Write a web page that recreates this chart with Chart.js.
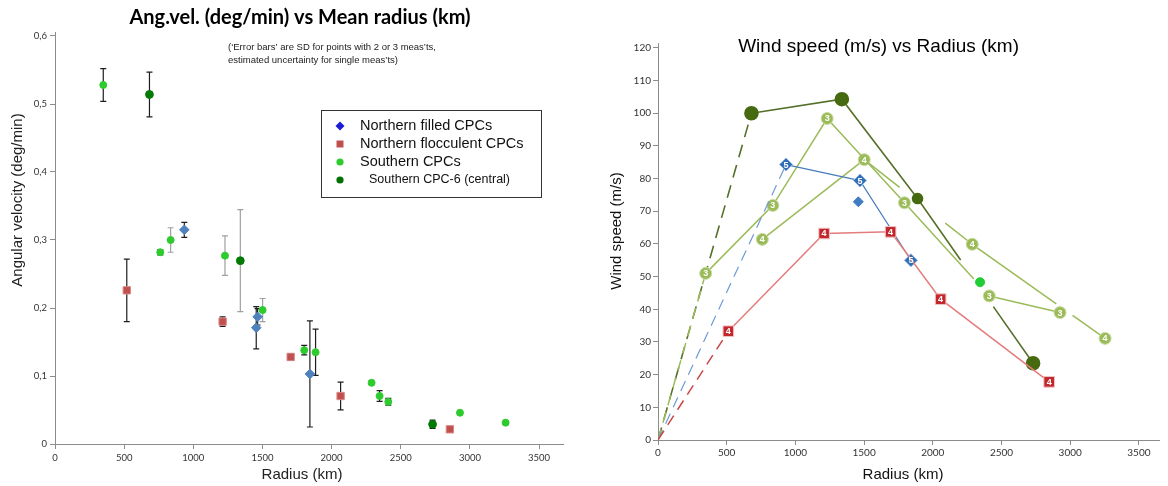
<!DOCTYPE html>
<html>
<head>
<meta charset="utf-8">
<script src="https://cdn.jsdelivr.net/npm/chart.js@4.4.1/dist/chart.umd.min.js"></script>
<style>
  html, body { margin: 0; padding: 0; background: #fff; }
  #wrap { position: relative; width: 1168px; height: 486px; overflow: hidden; }
  .box { position: absolute; top: 0; height: 486px; }
  #leftBox { left: 0; width: 580px; }
  #rightBox { left: 580px; width: 588px; }
</style>
</head>
<body>
<div id="wrap">
  <div class="box" id="leftBox"><canvas id="angvel" width="580" height="486"></canvas></div>
  <div class="box" id="rightBox"><canvas id="windspeed" width="588" height="486"></canvas></div>
</div>
<script>
// ---- left chart: angular velocity (deg/min) vs mean radius (km)
const nfRad = [935, 1465, 1455, 1843];
const nfVel = [0.315, 0.187, 0.171, 0.103];
const nfSd  = [0.011, 0.012, 0.031, 0.078];

const nflRad = [519, 1212, 1704, 2065, 2855];
const nflVel = [0.226, 0.180, 0.128, 0.0706, 0.0216];
const nflSd  = [0.046, 0.007, 0.005, 0.0205, 0];

const scRad = [349, 761, 836, 1229, 1501, 1802, 1884, 2289, 2347, 2410, 2928, 3258];
const scVel = [0.528, 0.282, 0.300, 0.277, 0.197, 0.138, 0.135, 0.090, 0.0706, 0.062, 0.046, 0.0314];
const scSd  = [0.024, 0.004, 0.018, 0.029, 0.017, 0.007, 0.034, 0.002, 0.008, 0.005, 0, 0.002];

const c6Rad = [683, 1340, 2730];
const c6Vel = [0.514, 0.2696, 0.029];
const c6Sd  = [0.033, 0.075, 0.006];

// ---- right chart: wind speed (m/s) vs radius (km)
const wC6Rad = [0, 680, 1338, 1889, 2730];
const wC6Spd = [0, 100, 104.3, 73.9, 23.5];

const wS3Rad = [0, 347, 836, 1231, 1794, 2411, 2926];
const wS3Spd = [0, 51, 71.8, 98.4, 72.6, 44.1, 39.0];
const wS3Lab = ['', '3', '3', '3', '3', '3', '3'];

const wS4Rad = [759, 1501, 2287, 3254];
const wS4Spd = [61.4, 85.8, 59.9, 31.1];
const wS4Lab = ['4', '4', '4', '4'];

const wNfRad = [0, 932, 1470, 1841];
const wNfSpd = [0, 84.3, 79.4, 55.0];
const wNfLab = ['', '5', '5', '5'];

const wNfOneRad = [1458];
const wNfOneSpd = [72.9];

const wNflRad = [0, 512, 1209, 1693, 2057, 2847];
const wNflSpd = [0, 33.3, 63.2, 63.7, 43.1, 17.8];
const wNflLab = ['', '4', '4', '4', '4', '4'];

const wScRad = [2344];
const wScSpd = [48.3];

const xTicks = [0, 500, 1000, 1500, 2000, 2500, 3000, 3500];
const angTicks = [0, 0.1, 0.2, 0.3, 0.4, 0.5, 0.6];
const windTicks = [0, 10, 20, 30, 40, 50, 60, 70, 80, 90, 100, 110, 120];

function pts(xs, ys) {
    return xs.map((x, i) => ({ x: x, y: ys[i] }));
}

// error bars drawn under the markers
const errorBars = {
    id: 'errorBars',
    beforeDatasetsDraw(chart) {
        const ctx = chart.ctx;
        const xs = chart.scales.x, ys = chart.scales.y;
        chart.data.datasets.forEach(ds => {
            if (!ds.errs) return;
            ds.data.forEach((p, j) => {
                const e = ds.errs[j];
                if (!e) return;
                const x = xs.getPixelForValue(p.x);
                const yt = ys.getPixelForValue(p.y + e);
                const yb = ys.getPixelForValue(p.y - e);
                ctx.save();
                ctx.strokeStyle = (ds.errGrey && ds.errGrey.includes(j)) ? '#a0a0a0' : '#1e1e1e';
                ctx.lineWidth = 1.2;
                ctx.beginPath();
                ctx.moveTo(x, yt); ctx.lineTo(x, yb);
                ctx.moveTo(x - 3, yt); ctx.lineTo(x + 3, yt);
                ctx.moveTo(x - 3, yb); ctx.lineTo(x + 3, yb);
                ctx.stroke();
                ctx.restore();
            });
        });
    }
};

// small white numbers inside the markers
const digits = {
    id: 'digits',
    afterDatasetsDraw(chart) {
        const ctx = chart.ctx;
        chart.data.datasets.forEach((ds, i) => {
            if (!ds.digits) return;
            const meta = chart.getDatasetMeta(i);
            meta.data.forEach((el, j) => {
                if (!ds.digits[j]) return;
                ctx.save();
                ctx.font = 'bold 9px "Liberation Sans", Arial';
                ctx.fillStyle = '#fff';
                ctx.textAlign = 'center';
                ctx.textBaseline = 'middle';
                ctx.fillText(ds.digits[j], el.x, el.y + 0.5);
                ctx.restore();
            });
        });
    }
};

// titles, notes and the boxed legend
const decor = {
    id: 'decor',
    afterDraw(chart, args, opts) {
        const ctx = chart.ctx;
        (opts.texts || []).forEach(t => {
            ctx.save();
            ctx.font = t.font;
            ctx.fillStyle = t.color || '#000';
            ctx.textAlign = t.align || 'center';
            ctx.textBaseline = 'middle';
            ctx.translate(t.x, t.y);
            if (t.rotate) ctx.rotate(t.rotate);
            ctx.fillText(t.text, 0, 0);
            ctx.restore();
        });
        const lg = opts.legend;
        if (!lg) return;
        ctx.save();
        ctx.strokeStyle = '#333';
        ctx.lineWidth = 1;
        ctx.strokeRect(lg.x + 0.5, lg.y + 0.5, lg.w, lg.h);
        lg.items.forEach(it => {
            const ds = chart.data.datasets[it.ds];
            const mx = lg.x + 19, my = it.y;
            ctx.fillStyle = it.color;
            ctx.beginPath();
            if (ds.pointStyle === 'rectRot') {
                ctx.moveTo(mx, my - 4.5); ctx.lineTo(mx + 4.5, my);
                ctx.lineTo(mx, my + 4.5); ctx.lineTo(mx - 4.5, my);
                ctx.closePath();
            } else if (ds.pointStyle === 'rect') {
                ctx.rect(mx - 3.5, my - 3.5, 7, 7);
            } else {
                ctx.arc(mx, my, 3.6, 0, Math.PI * 2);
            }
            ctx.fill();
            ctx.fillStyle = '#111';
            ctx.font = it.font;
            ctx.textAlign = 'left';
            ctx.textBaseline = 'middle';
            ctx.fillText(ds.label, it.tx, my);
        });
        ctx.restore();
    }
};

// fixed tick list, the axis itself runs a little past the last tick
function fixedTicks(list) {
    return scale => {
        scale.ticks = list.map(v => ({ value: v }));
    };
}

const axisGrey = '#8c8c8c';
const plainNum = v => String(v);

// ---------------- left chart
const ctx1 = document.getElementById('angvel').getContext('2d');
const angChart = new Chart(ctx1, {
    type: 'scatter',
    data: {
        datasets: [{
            label: 'Northern filled CPCs',
            data: pts(nfRad, nfVel),
            errs: nfSd,
            pointStyle: 'rectRot',
            pointRadius: 4.8,
            backgroundColor: '#4f81bd',
            borderColor: '#4f81bd'
        }, {
            label: 'Northern flocculent CPCs',
            data: pts(nflRad, nflVel),
            errs: nflSd,
            pointStyle: 'rect',
            pointRadius: 5.2,
            backgroundColor: '#c0504d',
            borderColor: '#d98886',
            borderWidth: 1
        }, {
            label: 'Southern CPCs',
            data: pts(scRad, scVel),
            errs: scSd,
            errGrey: [2, 3, 4],
            pointStyle: 'circle',
            pointRadius: 3.5,
            backgroundColor: '#2ecb2e',
            borderColor: '#2ecb2e'
        }, {
            label: 'Southern CPC-6 (central)',
            data: pts(c6Rad, c6Vel),
            errs: c6Sd,
            errGrey: [1],
            pointStyle: 'circle',
            pointRadius: 3.9,
            backgroundColor: '#007a00',
            borderColor: '#007a00'
        }]
    },
    options: {
        responsive: false,
        animation: false,
        events: [],
        layout: { padding: { left: 0, right: 17, top: 32.6, bottom: 0 } },
        plugins: {
            legend: { display: false },
            tooltip: { enabled: false },
            decor: {
                texts: [
                    { text: 'Ang.vel. (deg/min) vs Mean radius (km)', x: 300, y: 18, font: 'bold 20px Lato', color: '#000' },
                    { text: '(\u2018Error bars\u2019 are SD for points with 2 or 3 meas\u2019ts,', x: 228, y: 47, align: 'left', font: '9.5px "Liberation Sans", Arial', color: '#222' },
                    { text: 'estimated uncertainty for single meas\u2019ts)', x: 228, y: 60, align: 'left', font: '9.5px "Liberation Sans", Arial', color: '#222' },
                    { text: 'Angular velocity (deg/min)', x: 18, y: 200, rotate: -Math.PI / 2, font: '15px "Liberation Sans", Arial', color: '#222' },
                    { text: 'Radius (km)', x: 302, y: 475, font: '15px "Liberation Sans", Arial', color: '#222' }
                ],
                legend: {
                    x: 321, y: 110, w: 220, h: 87,
                    items: [
                        { ds: 0, y: 126, tx: 360, color: '#1c1cd6', font: '14.5px "Liberation Sans", Arial' },
                        { ds: 1, y: 144, tx: 360, color: '#c0504d', font: '14.5px "Liberation Sans", Arial' },
                        { ds: 2, y: 162, tx: 360, color: '#2ecb2e', font: '14.5px "Liberation Sans", Arial' },
                        { ds: 3, y: 180, tx: 369, color: '#007000', font: '12.5px "Liberation Sans", Arial' }
                    ]
                }
            }
        },
        scales: {
            x: {
                type: 'linear',
                min: 0,
                max: 3673,
                afterBuildTicks: fixedTicks(xTicks),
                afterFit: s => { s.height = 42; },
                ticks: { autoSkip: false, padding: 3, color: '#333', font: { family: 'Lato', size: 9.5 }, callback: plainNum },
                grid: { drawOnChartArea: false, drawTicks: true, tickLength: 5, color: axisGrey },
                border: { color: axisGrey }
            },
            y: {
                min: 0,
                max: 0.605,
                afterBuildTicks: fixedTicks(angTicks),
                afterFit: s => { s.width = 55; },
                ticks: {
                    autoSkip: false,
                    padding: 3,
                    color: '#333',
                    font: { family: 'Lato', size: 9.5 },
                    callback: v => v === 0 ? '0' : String(Math.round(v * 10) / 10).replace('.', ',')
                },
                grid: { drawOnChartArea: false, drawTicks: true, tickLength: 5, color: axisGrey },
                border: { color: axisGrey }
            }
        }
    },
    plugins: [errorBars, decor]
});

// ---------------- right chart
function segDash(originDash, gaps) {
    return c => {
        if (originDash && c.p0DataIndex === 0) return originDash;
        if (gaps && gaps[c.p0DataIndex]) return gaps[c.p0DataIndex];
        return undefined;
    };
}

const ctx2 = document.getElementById('windspeed').getContext('2d');
const windChart = new Chart(ctx2, {
    type: 'line',
    data: {
        datasets: [{
            label: 'Northern flocculent CPCs',
            data: pts(wNflRad, wNflSpd),
            digits: wNflLab,
            borderColor: '#e37d7d',
            borderWidth: 1.5,
            pointStyle: 'rect',
            pointRadius: [0, 7.5, 7.5, 7.5, 7.5, 7.5],
            pointBackgroundColor: '#c1272d',
            pointBorderColor: '#f3c4c4',
            pointBorderWidth: 1,
            segment: { borderDash: segDash([11, 7]), borderColor: c => c.p0DataIndex === 0 ? '#c84848' : undefined }
        }, {
            label: 'Northern filled CPCs',
            data: pts(wNfRad, wNfSpd),
            digits: wNfLab,
            borderColor: '#4a7ebb',
            borderWidth: 1.2,
            pointStyle: 'rectRot',
            pointRadius: [0, 6.5, 6.5, 6.5],
            pointBackgroundColor: '#2f6db5',
            pointBorderColor: '#8db3e0',
            pointBorderWidth: 1,
            segment: { borderDash: segDash([11, 7]), borderColor: c => c.p0DataIndex === 0 ? '#6c9bd6' : undefined }
        }, {
            label: 'Northern filled CPCs (single)',
            data: pts(wNfOneRad, wNfOneSpd),
            showLine: false,
            pointStyle: 'rectRot',
            pointRadius: 5,
            pointBackgroundColor: '#3f7cc4',
            pointBorderColor: '#3f7cc4'
        }, {
            label: 'Southern CPC',
            data: pts(wScRad, wScSpd),
            showLine: false,
            pointStyle: 'circle',
            pointRadius: 4.5,
            pointBackgroundColor: '#22cc33',
            pointBorderColor: '#22cc33'
        }, {
            label: 'Southern CPCs (3)',
            data: pts(wS3Rad, wS3Spd),
            digits: wS3Lab,
            borderColor: '#9bbb59',
            borderWidth: 1.5,
            pointStyle: 'circle',
            pointRadius: [0, 6, 6, 6, 6, 6, 6],
            pointBackgroundColor: '#9bbb59',
            pointBorderColor: '#c8dca4',
            pointBorderWidth: 1,
            segment: { borderDash: segDash([11, 7], { 4: [103, 400] }) }
        }, {
            label: 'Southern CPCs (4)',
            data: pts(wS4Rad, wS4Spd),
            digits: wS4Lab,
            borderColor: '#9bbb59',
            borderWidth: 1.5,
            pointStyle: 'circle',
            pointRadius: 6,
            pointBackgroundColor: '#9bbb59',
            pointBorderColor: '#c8dca4',
            pointBorderWidth: 1,
            segment: { borderDash: segDash(null, { 1: [45, 58, 400], 2: [103, 20, 400] }) }
        }, {
            label: 'Southern CPC-6 (central)',
            data: pts(wC6Rad, wC6Spd),
            borderColor: '#56702a',
            borderWidth: 1.6,
            pointStyle: 'circle',
            pointRadius: [0, 6.5, 6.5, 5, 6.5],
            pointBackgroundColor: '#466a10',
            pointBorderColor: '#466a10',
            segment: { borderDash: segDash([13, 8], { 3: [75, 57, 400] }) }
        }]
    },
    options: {
        responsive: false,
        animation: false,
        events: [],
        layout: { padding: { left: 0, right: 2, top: 43, bottom: 0 } },
        plugins: {
            legend: { display: false },
            tooltip: { enabled: false },
            decor: {
                texts: [
                    { text: 'Wind speed (m/s) vs Radius (km)', x: 298.6, y: 47, font: '19px "Liberation Sans", Arial', color: '#000' },
                    { text: 'Wind speed (m/s)', x: 37, y: 231, rotate: -Math.PI / 2, font: '15px "Liberation Sans", Arial', color: '#111' },
                    { text: 'Radius (km)', x: 323, y: 475, font: '15px "Liberation Sans", Arial', color: '#111' }
                ]
            }
        },
        scales: {
            x: {
                type: 'linear',
                min: 0,
                max: 3650,
                afterBuildTicks: fixedTicks(xTicks),
                afterFit: s => { s.height = 46; },
                ticks: { autoSkip: false, padding: 2, color: '#333', font: { family: 'Lato', size: 10 }, callback: plainNum },
                grid: { drawOnChartArea: false, drawTicks: true, tickLength: 5, color: axisGrey },
                border: { color: axisGrey }
            },
            y: {
                type: 'linear',
                min: 0,
                max: 121.5,
                afterBuildTicks: fixedTicks(windTicks),
                afterFit: s => { s.width = 78; },
                ticks: { autoSkip: false, padding: 2, color: '#333', font: { family: 'Lato', size: 10 }, callback: plainNum },
                grid: { drawOnChartArea: false, drawTicks: true, tickLength: 5, color: axisGrey },
                border: { color: axisGrey }
            }
        }
    },
    plugins: [digits, decor]
});
</script>
</body>
</html>
